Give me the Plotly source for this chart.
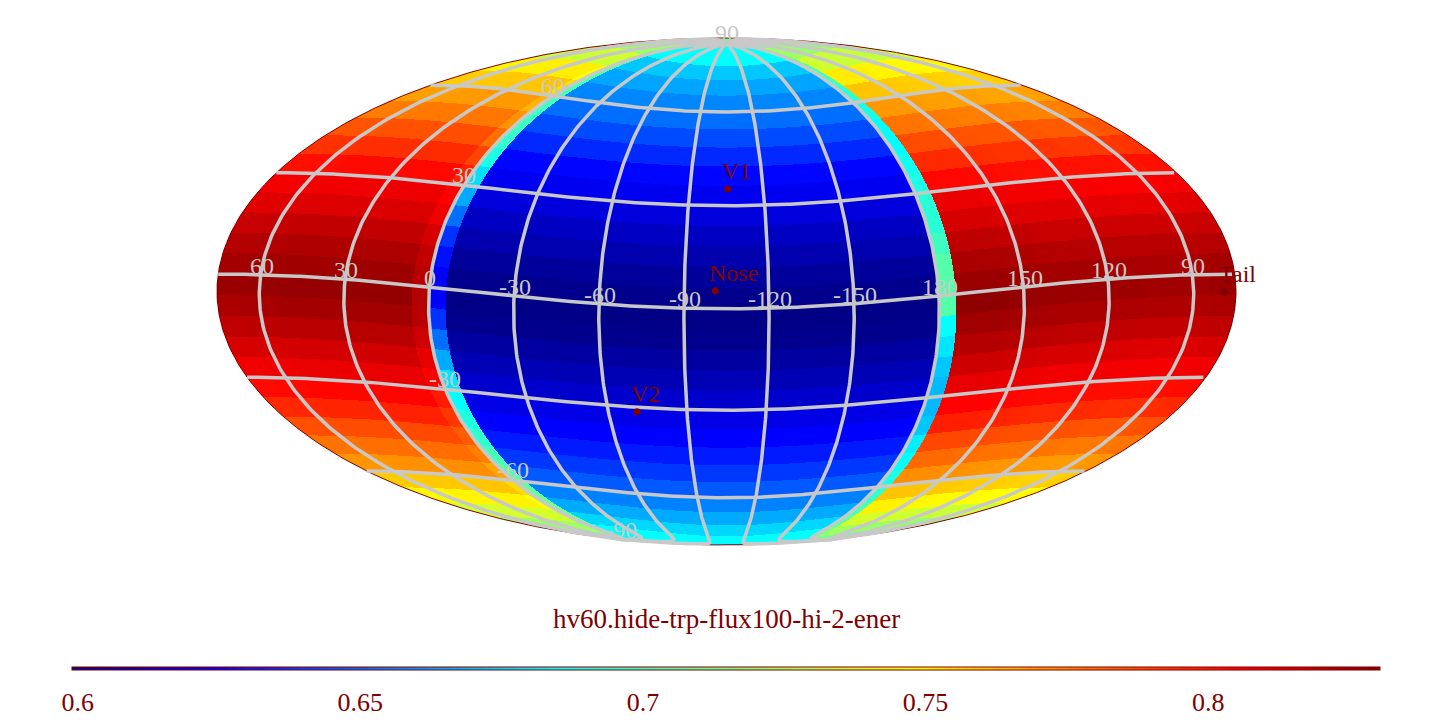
import numpy as np
import plotly.graph_objects as go

TITLE = "hv60.hide-trp-flux100-hi-2-ener"
DARK = "#800000"
GRAY = "#c8c8c8"
SERIF = "Liberation Serif"

# 6-degree latitude bands, north to south (z values)
blue_band = [.6847,.6847,.6717,.6634,.6564,.6505,.6422,.6339,.6257,.6214,.6174,.6124,.6084,.6044,.6014,
             .6004,.6014,.6054,.6094,.6144,.6194,.6244,.6304,.6375,.6457,.6552,.6646,.6752,.6847,.6847]
red_band = [.7126,.7228,.7355,.7516,.7603,.7701,.7777,.7864,.7940,.8017,.8069,.8109,.8159,.8199,.8229,
            .8249,.8219,.8179,.8129,.8079,.8028,.7962,.7875,.7799,.7723,.7603,.7505,.7370,.7228,.7126]
rim_west = [.7177,.7100,.7050,.7038,.7025,.7013,.6999,.6974,.6911,.6776,.6646,.6505,.6363,.6280,.6244,
            .6244,.6363,.6505,.6646,.6788,.6847,.6923,.6974,.7025,.7063,.7100,.7130,.7150,.7170,.7190]
rim_east = [.7152,.7100,.7050,.7000,.6950,.6900,.6847,.6847,.6885,.6911,.6949,.6950,.7000,.7063,.7063,
            .7063,.6847,.6788,.6717,.6682,.6682,.6717,.6811,.6847,.6911,.6974,.7025,.7076,.7130,.7177]
red_rim = [.7126,.7228,.7340,.7490,.7570,.7660,.7730,.7810,.7900,.7980,.8049,.8080,.8130,.8170,.8190,
           .8199,.8190,.8150,.8100,.8049,.7990,.7930,.7850,.7770,.7690,.7570,.7480,.7350,.7228,.7126]
# small change of the red bands per 6-degree longitude column, lon 6 ... 174
red_col_shift = [.0015,.0015,.0015,.0015,.001,.001,.001,.001,.0005,.0005,0,0,0,-.001,-.001,-.001,-.001,
                 -.0005,-.0005,0,0,0,.0005,.001,.0015,.002,.002,.002]

lat_ticks = [-60, -30, 0, 30, 60]
lon_ticks = [-150, -120, -90, -60, -30, 0, 30, 60, 90, 120, 150, 180]
lon_tick_labels = ["-150", "-120", "-90", "-60", "-30", "0", "30", "60", "90", "120", "150", "180"]
lat_tick_labels = ["-90", "-60", "-30", "30", "60", "90"]
lat_label_ticks = [-90, -60, -30, 30, 60, 90]

point_names = ["Nose", "Tail", "V1", "V2"]
point_lons = [-101, 79, -105.5, -71]
point_lats = [5.2, -5.2, 35, -31.4]

bar_ticks = [0.6, 0.65, 0.7, 0.75, 0.8]
bar_labels = ["0.6", "0.65", "0.7", "0.75", "0.8"]
z_min, z_max = 0.599, 0.8304
colors = [[0, "rgb(0,0,128)"], [.11, "rgb(0,0,255)"], [.37, "rgb(0,255,255)"],
          [.65, "rgb(255,255,0)"], [.89, "rgb(255,0,0)"], [1, "rgb(128,0,0)"]]

# Map frame: Mollweide, centred on (LON0, LAT0), lon growing to the left
LON0, LAT0 = np.radians(-105.0), np.radians(5.0)
CX, CY, AX, BY = 726.5, 291.5, 509.5, 253.5


def forward(lon, lat):
    lon, lat = np.radians(np.asarray(lon, float)), np.radians(np.asarray(lat, float))
    d = lon - LON0
    x, y, z = np.cos(lat) * np.cos(d), np.cos(lat) * np.sin(d), np.sin(lat)
    xr = x * np.cos(LAT0) + z * np.sin(LAT0)
    zr = -x * np.sin(LAT0) + z * np.cos(LAT0)
    lam = np.arctan2(y, xr)
    phi = np.arcsin(np.clip(zr, -1, 1))
    th = phi.copy()
    for _ in range(60):
        den = 2 + 2 * np.cos(2 * th)
        den = np.where(den < 1e-6, 1e-6, den)
        th = th - (2 * th + np.sin(2 * th) - np.pi * np.sin(phi)) / den
        th = np.clip(th, -np.pi / 2, np.pi / 2)
    return -2 * lam / np.pi * np.cos(th), np.sin(th), lam


def grid_line(lons, lats):
    px, py, lam = forward(lons, lats)
    xs, ys = [], []
    for i in range(len(px)):
        if i and abs(lam[i] - lam[i - 1]) > 1.5:
            xs.append(None)
            ys.append(None)
        xs.append(float(px[i]))
        ys.append(float(py[i]))
    xs.append(None)
    ys.append(None)
    return xs, ys


# Table of z, one row per band, one column per 6-degree longitude from -180
rows, cols = 30, 60
table = np.zeros((rows, cols))
for c in range(cols):
    west = -180 + 6 * c
    if west == -6:
        table[:, c] = rim_west
    elif west == 0:
        table[:, c] = red_rim
    elif west == 174:
        table[:, c] = rim_east
    elif west < 0:
        table[:, c] = blue_band
    else:
        table[:, c] = np.array(red_band) + red_col_shift[(west - 6) // 6]

# Look every screen position up in the table
gx = (np.arange(217, 1237) + 0.5 - CX) / (AX / 2)
gy = (CY - (np.arange(36, 547) + 0.5)) / BY
X, Y = np.meshgrid(gx, gy)
inside = (X / 2) ** 2 + Y ** 2 <= 1
th = np.arcsin(np.clip(Y, -1, 1))
phi = np.arcsin(np.clip((2 * th + np.sin(2 * th)) / np.pi, -1, 1))
lam = -X * np.pi / (2 * np.maximum(np.cos(th), 1e-6))
xr, yr, zr = np.cos(phi) * np.cos(lam), np.cos(phi) * np.sin(lam), np.sin(phi)
x0 = xr * np.cos(LAT0) - zr * np.sin(LAT0)
z0 = xr * np.sin(LAT0) + zr * np.cos(LAT0)
lat = np.degrees(np.arcsin(np.clip(z0, -1, 1)))
lon = np.degrees(np.arctan2(yr, x0) + LON0)
lon = (lon + 180) % 360 - 180
ri = np.clip(((90 - lat) // 6).astype(int), 0, rows - 1)
ci = np.clip(((lon + 180) // 6).astype(int), 0, cols - 1)
Z = table[ri, ci].astype("float32")
Z[~inside] = np.nan

fig = go.Figure()
fig.add_trace(go.Heatmap(
    x=gx, y=gy, z=Z, zmin=z_min, zmax=z_max, colorscale=colors, hoverinfo="skip",
    colorbar=dict(orientation="h", lenmode="pixels", len=1308, thicknessmode="pixels", thickness=3,
                  x=726 / 1452, xanchor="center", y=1 - 666.5 / 728, yanchor="top", xpad=0, ypad=0,
                  outlinecolor=DARK, outlinewidth=1, borderwidth=0,
                  tickmode="array", tickvals=bar_ticks, ticktext=bar_labels,
                  ticks="outside", ticklen=10, tickcolor="rgba(0,0,0,0)",
                  tickfont=dict(family=SERIF, size=26, color=DARK)),
))

# Map rim
rim_t = np.linspace(0, 2 * np.pi, 721)
fig.add_trace(go.Scatter(x=2 * np.cos(rim_t), y=np.sin(rim_t), mode="lines",
                         line=dict(color=DARK, width=1), hoverinfo="skip"))

# Graticule
gxs, gys = [], []
samples = np.arange(-180, 180.5, 1.0)
for la in lat_ticks:
    a, b = grid_line(samples, np.full_like(samples, la))
    gxs += a
    gys += b
lat_samples = np.arange(-90, 90.5, 1.0)
for lo in lon_ticks:
    a, b = grid_line(np.full_like(lat_samples, lo), lat_samples)
    gxs += a
    gys += b
fig.add_trace(go.Scatter(x=gxs, y=gys, mode="lines", line=dict(color=GRAY, width=3.5), hoverinfo="skip"))

annotations = []


def add_labels(lons, lats, texts, color, xanchor, xshift, yshift, size):
    px, py, _ = forward(lons, lats)
    for a, b, t in zip(px, py, texts):
        annotations.append(dict(x=float(a), y=float(b), text=t, showarrow=False, xanchor=xanchor, yanchor="bottom",
                                xshift=xshift, yshift=yshift, font=dict(family=SERIF, size=size, color=color)))


# Graticule labels
add_labels(lon_ticks, [0] * len(lon_ticks), lon_tick_labels, GRAY, "center", 1, -6, 24)
add_labels([0] * len(lat_label_ticks), lat_label_ticks, lat_tick_labels, GRAY, "center", 0, -5, 24)

# Named points
px, py, _ = forward(point_lons, point_lats)
fig.add_trace(go.Scatter(x=px, y=py, mode="markers", marker=dict(color=DARK, size=7), hoverinfo="skip"))
add_labels(point_lons, point_lats, point_names, DARK, "left", -8, 3, 24)

annotations.append(dict(xref="paper", yref="paper", x=726.5 / 1452, y=1 - 619 / 728, text=TITLE, showarrow=False,
                        xanchor="center", yanchor="middle", font=dict(family=SERIF, size=27, color=DARK)))

fig.update_layout(
    width=1452, height=728, margin=dict(l=0, r=0, t=0, b=0, autoexpand=False),
    paper_bgcolor="white", plot_bgcolor="white", showlegend=False, annotations=annotations,
    xaxis=dict(visible=False, range=[-CX / (AX / 2), (1452 - CX) / (AX / 2)], fixedrange=True),
    yaxis=dict(visible=False, range=[(CY - 728) / BY, CY / BY], fixedrange=True),
)
fig.write_html("out.html", config={"displayModeBar": False},
               post_script="document.body.style.margin='0';")
